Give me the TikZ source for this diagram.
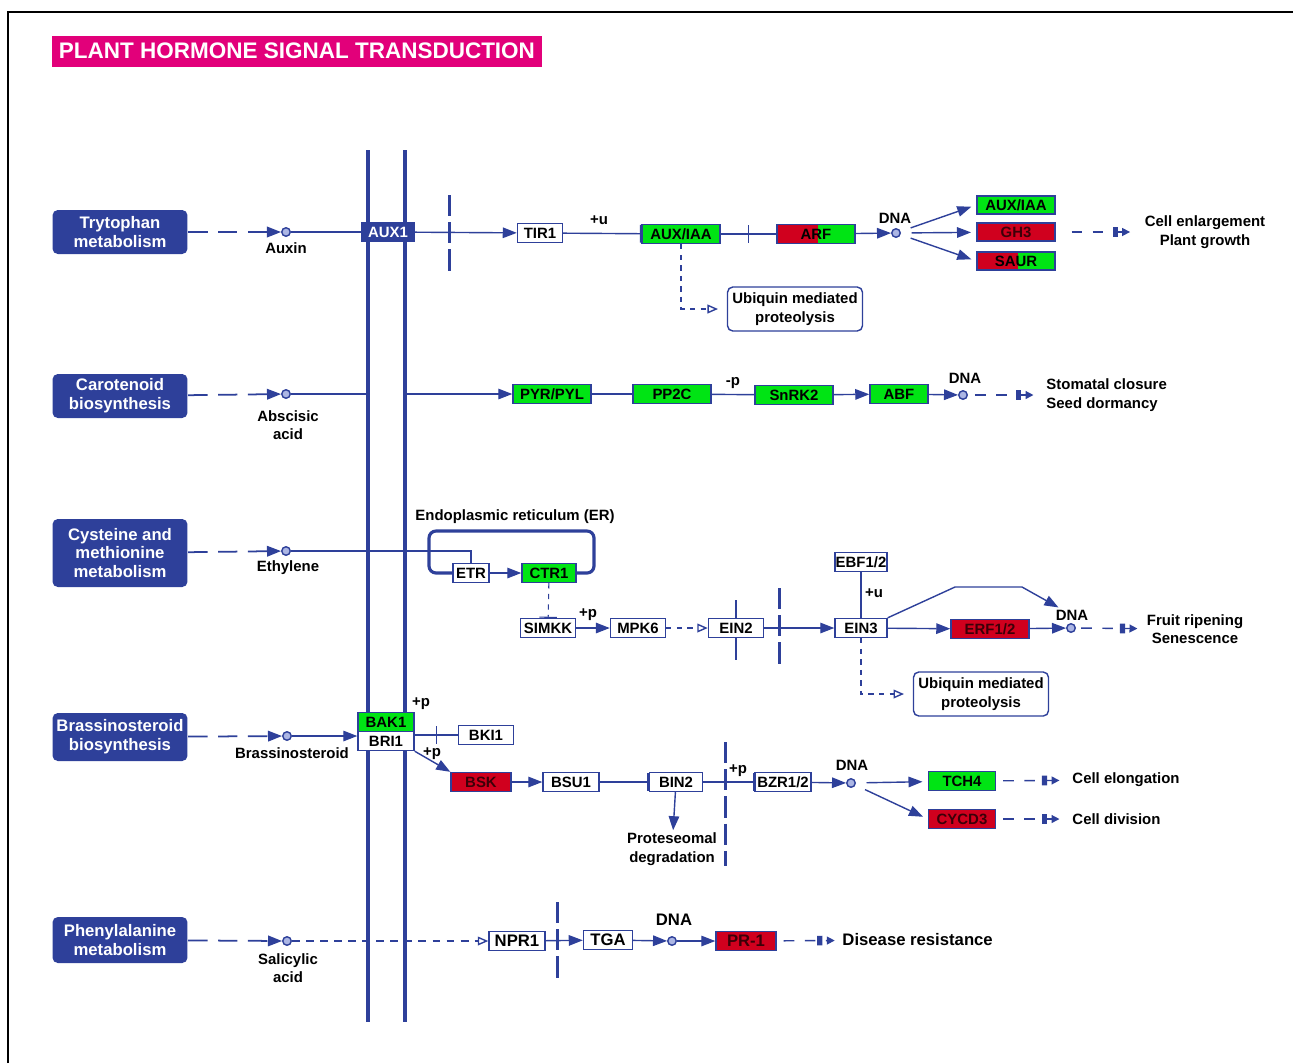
\documentclass[tikz,border=0pt]{standalone}
\usepackage{fontspec}
\setmainfont{Liberation Sans}
\usepackage{tikz}
\usetikzlibrary{arrows.meta}
\usetikzlibrary{calc}
\usetikzlibrary{decorations.markings}
\definecolor{keggblue}{RGB}{46,64,154}
\definecolor{kegggreen}{RGB}{0,228,20}
\definecolor{keggred}{RGB}{208,0,30}
\definecolor{keggpink}{RGB}{226,0,122}
\definecolor{cpdfill}{RGB}{172,182,228}
\definecolor{redtext}{RGB}{60,0,8}
\tikzset{
every picture/.style={line width=0.8pt, color=keggblue, text=black,
                       >={Triangle[length=8pt,width=6pt]}},
%%%%%%%%%%  Node styles
gene/.style={draw=keggblue, fill=white, inner sep=0pt, minimum height=0.38cm,
             minimum width=1.1cm, font=\fontsize{8.5}{10}\selectfont\bfseries},
wide/.style={minimum width=1.56cm},
up/.style={gene, fill=kegggreen},
down/.style={gene, fill=keggred, text=redtext},
mixed/.style={gene, fill=kegggreen,
              path picture={\fill[keggred] (path picture bounding box.south west) rectangle
              ($(path picture bounding box.north west)!#1!(path picture bounding box.north east)$);}},
mixed/.default=0.52,
transporter/.style={gene, fill=keggblue, text=white},
pathway/.style={fill=keggblue, text=white, rounded corners=3pt, minimum width=2.7cm,
                minimum height=0.88cm, inner sep=0pt, align=center,
                font=\fontsize{9.5}{10.8}\selectfont\bfseries},
proc/.style={draw=keggblue, fill=white, rounded corners=3pt, minimum width=2.7cm,
             minimum height=0.88cm, inner sep=0pt, align=center,
             font=\fontsize{8.5}{10.6}\selectfont\bfseries},
compound/.style={circle, draw=keggblue, fill=cpdfill, minimum size=0.17cm, inner sep=0pt},
txt/.style={inner sep=1pt, align=center, font=\fontsize{8.5}{10.6}\selectfont\bfseries},
bigtxt/.style={txt, font=\fontsize{9.5}{11}\selectfont\bfseries},
title/.style={fill=keggpink, text=white, minimum width=9.8cm, minimum height=0.62cm,
              inner sep=0pt, font=\fontsize{12.8}{14}\selectfont\bfseries},
%%%% different line styles:
membrane/.style={line width=1.8pt},
er/.style={line width=1.8pt, rounded corners=4pt},
nucleus/.style={line width=1.7pt, dash pattern=on 12pt off 3.5pt},
feed/.style={line width=1pt, dash pattern=on 11pt off 6pt, ->},
inhibit/.style={-{Bar[width=10pt]}},
opentip/.style={-{Triangle[open,length=6pt,width=5pt]}},
thindash/.style={dash pattern=on 4.5pt off 3.5pt},
indirect/.style={dash pattern=on 6pt off 6pt,
                 -{Rectangle[length=3pt,width=5.5pt,sep=2.5pt]Triangle[length=4.5pt,width=4.5pt]}},
%%%%%%% Mid-path bars
midbar/.style={postaction={decorate},
               decoration={markings,
                  mark=at position #1 with {\draw[-] (0,-5pt) -- (0,5pt);},
               }},
midbar/.default=0.5
}

\begin{document}
\begin{tikzpicture}[x=0.02cm, y=-0.02cm]
\useasboundingbox (0,0) rectangle (1293,1063);
\draw[black, line width=1pt] (8,1063) -- (8,12) -- (1293,12);
\node[title] (title) at (297,51) {PLANT HORMONE SIGNAL TRANSDUCTION};

%%%% membranes
\draw[membrane] (368,150) -- (368,1022);
\draw[membrane] (405,150) -- (405,1022);
\draw[nucleus] (449,195) -- (449,275);
\draw[nucleus] (779,588) -- (779,668);
\draw[nucleus] (725,742) -- (725,866);
\draw[nucleus] (557,902) -- (557,980);
\draw (736,600) -- (736,660);

%%%% pathway maps
\node[pathway] (trp) at (120,232) {Trytophan\\metabolism};
\node[pathway] (car) at (120,396) {Carotenoid\\biosynthesis};
\node[pathway, minimum height=1.36cm] (cys) at (120,553) {Cysteine and\\methionine\\metabolism};
\node[pathway, minimum height=0.96cm] (brs) at (120,737) {Brassinosteroid\\biosynthesis};
\node[pathway, minimum height=0.92cm] (phe) at (120,940) {Phenylalanine\\metabolism};

%%%% compounds
\node[compound] (iaa) at (286,232) {};
\node[txt] (iaalab) at (286,248) {Auxin};
\node[compound] (aba) at (286,394) {};
\node[txt] (abalab) at (288,425) {Abscisic\\acid};
\node[compound] (eth) at (286,551) {};
\node[txt] (ethlab) at (288,568) {Ethylene};
\node[compound] (br) at (287,736) {};
\node[txt] (brlab) at (292,753) {Brassinosteroid};
\node[compound] (sa) at (287,941) {};
\node[txt] (salab) at (288,968) {Salicylic\\acid};

%%%% auxin
\node[transporter, minimum width=1.04cm] (aux1) at (388,232) {AUX1};
\node[gene, minimum width=0.9cm] (tir1) at (540,233) {TIR1};
\node[up, wide] (auxiaa) at (681,234) {AUX/IAA};
\node[mixed, wide] (arf) at (816,234) {ARF};
\node[compound] (dna1) at (896,233) {};
\node[txt] (dna1lab) at (895,218) {DNA};
\node[up, wide, minimum height=0.36cm] (auxiaa2) at (1016,205) {AUX/IAA};
\node[down, wide, minimum height=0.36cm] (gh3) at (1016,232) {GH3};
\node[mixed, wide, minimum height=0.36cm] (saur) at (1016,261) {SAUR};
\node[txt] (growth) at (1205,232) {Cell enlargement\\Plant growth};
\node[proc] (ubq1) at (795,309) {Ubiquin mediated\\proteolysis};
\node[txt] (u1) at (599,220) {+u};
\draw[feed] (trp) -- (iaa);
\draw (iaa) -- (aux1);
\draw[->] (aux1) -- (tir1);
\draw[inhibit] (tir1) -- (auxiaa);
\draw[midbar] (auxiaa) -- (arf);
\draw[->] (arf) -- (dna1);
\draw[->, shorten <=6pt, shorten >=3pt] (dna1) -- (auxiaa2.west);
\draw[->, shorten <=6pt, shorten >=3pt] (dna1) -- (gh3);
\draw[->, shorten <=6pt, shorten >=3pt] (dna1) -- (saur.west);
\draw[indirect, shorten <=9pt, shorten >=7pt] (gh3) -- (growth);
\draw[dashed, opentip, shorten >=5pt] (auxiaa) |- (ubq1);

%%%% abscisic acid
\coordinate (abain) at (368,394);
\coordinate (abaout) at (405,394);
\node[up, wide] (pyr) at (552,394) {PYR/PYL};
\node[up, wide] (pp2c) at (672,394) {PP2C};
\node[up, wide] (snrk2) at (794,395) {SnRK2};
\node[up, minimum width=1.16cm] (abf) at (899,394) {ABF};
\node[compound] (dna2) at (963,395) {};
\node[txt] (dna2lab) at (965,378) {DNA};
\node[txt, anchor=west, align=left] (stomata) at (1044,395) {Stomatal closure\\Seed dormancy};
\node[txt] (p1) at (733,383) {-p};
\draw[feed] (car) -- (aba);
\draw (aba) -- (abain);
\draw[->] (abaout) -- (pyr);
\draw (pyr) -- (pp2c);
\draw (pp2c) -- (snrk2);
\draw[->] (snrk2) -- (abf);
\draw[->] (abf) -- (dna2);
\draw[indirect, shorten <=4pt, shorten >=6pt] (dna2) -- (stomata);

%%%% ethylene
\node[txt] (erlab) at (515,517) {Endoplasmic reticulum (ER)};
\node[gene, minimum width=0.72cm] (etr) at (471,573) {ETR};
\node[up, minimum width=1.08cm] (ctr1) at (549,573) {CTR1};
\node[gene] (simkk) at (548,628) {SIMKK};
\node[gene] (mpk6) at (638,628) {MPK6};
\node[gene] (ein2) at (736,628) {EIN2};
\node[gene, minimum width=1.04cm] (ein3) at (861,628) {EIN3};
\node[gene, minimum width=1.04cm] (ebf) at (861,562) {EBF1/2};
\node[down, wide] (erf) at (990,629) {ERF1/2};
\node[compound] (dna3) at (1071,628) {};
\node[txt] (dna3lab) at (1072,615) {DNA};
\node[txt] (fruit) at (1195,629) {Fruit ripening\\Senescence};
\node[proc] (ubq2) at (981,694) {Ubiquin mediated\\proteolysis};
\node[txt] (p2) at (588,615) {+p};
\node[txt] (u2) at (874,593) {+u};
\draw[feed] (cys) -- (eth);
\draw (eth) -| (etr);
\draw[er] (etr.west) -- (429,573) -- (429,531) -- (594,531) -- (594,573) -- (ctr1.east);
\draw[->] (etr) -- (ctr1);
\draw[dashed, line width=0.6pt, inhibit] (ctr1) -- (simkk);
\draw[->] (simkk) -- (mpk6);
\draw[dashed, opentip] (mpk6) -- (ein2);
\draw[->] (ein2) -- (ein3);
\draw (ebf) -- (ein3);
\draw[->] (ein3) -- (erf);
\draw[->] (erf) -- (dna3);
\draw[->] (ein3.north east) -- (955,587) -- (1022,587) -- (dna3lab);
\draw[indirect, shorten <=3pt, shorten >=4pt] (dna3) -- (fruit);
\draw[dashed, opentip, shorten >=5pt] (ein3) |- (ubq2);

%%%% brassinosteroid
\node[up, minimum width=1.12cm] (bak1) at (386,722) {BAK1};
\node[gene, minimum width=1.12cm] (bri1) at (386,741) {BRI1};
\node[gene] (bki1) at (486,735) {BKI1};
\node[down, minimum width=1.2cm] (bsk) at (481,782) {BSK};
\node[gene, minimum width=1.12cm] (bsu1) at (571,782) {BSU1};
\node[gene, minimum width=1.06cm] (bin2) at (676,782) {BIN2};
\node[gene, minimum width=1.12cm] (bzr) at (783,782) {BZR1/2};
\node[compound] (dna4) at (851,783) {};
\node[txt] (dna4lab) at (852,765) {DNA};
\node[up, minimum width=1.34cm] (tch4) at (962,781) {TCH4};
\node[down, minimum width=1.34cm] (cycd3) at (962,819) {CYCD3};
\node[txt] (prot) at (672,849) {Proteseomal\\degradation};
\node[txt, anchor=west] (elong) at (1070,780) {Cell elongation};
\node[txt, anchor=west] (divis) at (1070,819) {Cell division};
\node[txt] (p3) at (421,704) {+p};
\node[txt] (p4) at (432,754) {+p};
\node[txt] (p5) at (738,771) {+p};
\draw[feed] (brs) -- (br);
\draw[->] (br) -- (br -| bri1.west);
\draw[midbar] (bki1 -| bri1.east) -- (bki1);
\draw[->] (bri1.south east) -- (bsk.north west);
\draw[->] (bsk) -- (bsu1);
\draw[inhibit] (bsu1) -- (bin2);
\draw[->] (bin2) -- (prot);
\draw[inhibit] (bin2) -- (bzr);
\draw[->] (bzr) -- (dna4);
\draw[->, shorten <=6pt, shorten >=3pt] (dna4) -- (tch4);
\draw[->, shorten <=6pt, shorten >=3pt] (dna4) -- (cycd3.west);
\draw[indirect, shorten <=4pt, shorten >=6pt] (tch4) -- (elong);
\draw[indirect, shorten <=4pt, shorten >=6pt] (cycd3) -- (divis);

%%%% salicylic acid
\node[gene, minimum width=1.12cm, font=\fontsize{9.5}{11}\selectfont\bfseries] (npr1) at (517,941) {NPR1};
\node[gene, minimum width=0.98cm, font=\fontsize{9.5}{11}\selectfont\bfseries] (tga) at (608,940) {TGA};
\node[compound] (dna5) at (672,941) {};
\node[bigtxt] (dna5lab) at (674,920) {DNA};
\node[down, minimum width=1.2cm, font=\fontsize{9.5}{11}\selectfont\bfseries] (pr1) at (746,941) {PR-1};
\node[bigtxt, anchor=west] (disease) at (840,940) {Disease resistance};
\draw[feed] (phe) -- (sa);
\draw[thindash, opentip] (sa) -- (npr1);
\draw[->] (npr1) -- (tga);
\draw[->] (tga) -- (dna5);
\draw[->] (dna5) -- (pr1);
\draw[indirect, shorten <=4pt, shorten >=3pt] (pr1) -- (disease);
\end{tikzpicture}
\end{document}
